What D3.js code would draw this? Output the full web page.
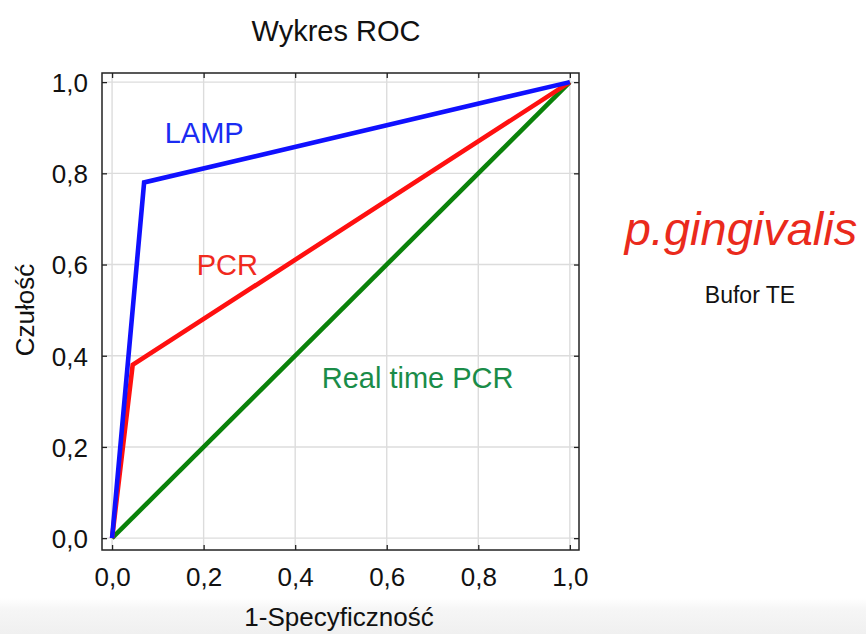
<!DOCTYPE html>
<html>
<head>
<meta charset="utf-8">
<script src="https://cdn.jsdelivr.net/npm/d3@7"></script>
<style>
  html, body { margin: 0; padding: 0; background: #fff; }
  svg { display: block; font-family: "Liberation Sans", Arial, Helvetica, sans-serif; }
</style>
</head>
<body>
<svg id="chart" width="866" height="634"></svg>
<script>
// ROC curves: x = 1 - specificity, y = sensitivity
const seriesNames = ["LAMP", "PCR", "Real time PCR"];
const lampPoints = [[0, 0], [0.07, 0.78], [1, 1]];
const pcrPoints = [[0, 0], [0.045, 0.38], [1, 1]];
const rtPcrPoints = [[0, 0], [1, 1]];
const tickValues = [0, 0.2, 0.4, 0.6, 0.8, 1.0];
const tickLabels = ["0,0", "0,2", "0,4", "0,6", "0,8", "1,0"];

const svg = d3.select("#chart");
const W = 866, H = 634;

// faint grey band along the bottom edge
const defs = svg.append("defs");
const grad = defs.append("linearGradient").attr("id", "band")
  .attr("x1", 0).attr("y1", 0).attr("x2", 0).attr("y2", 1);
grad.append("stop").attr("offset", "0%").attr("stop-color", "#ffffff");
grad.append("stop").attr("offset", "30%").attr("stop-color", "#f6f6f6");
grad.append("stop").attr("offset", "100%").attr("stop-color", "#f0f0f0");
svg.append("rect").attr("x", 0).attr("y", 598).attr("width", W).attr("height", H - 598)
  .attr("fill", "url(#band)");

// plot frame
const frame = { left: 102, right: 579, top: 73, bottom: 550 };
const x = d3.scaleLinear().domain([-0.022, 1.02]).range([frame.left, frame.right]);
const y = d3.scaleLinear().domain([-0.026, 1.02]).range([frame.bottom, frame.top]);

// grid
const grid = svg.append("g");
grid.selectAll("line.gx").data(tickValues).join("line")
  .attr("x1", d => x(d)).attr("x2", d => x(d))
  .attr("y1", frame.top).attr("y2", frame.bottom)
  .attr("stroke", "#dcdcdc").attr("stroke-width", 1.4);
grid.selectAll("line.gy").data(tickValues).join("line")
  .attr("y1", d => y(d)).attr("y2", d => y(d))
  .attr("x1", frame.left).attr("x2", frame.right)
  .attr("stroke", "#dcdcdc").attr("stroke-width", 1.4);

// inward ticks on all four sides, labels on bottom and left
const fmt = (d, i) => tickLabels[i];
const axisStyle = g => {
  g.select(".domain").remove();
  g.selectAll(".tick line").attr("stroke", "#222").attr("stroke-width", 1.3);
  g.selectAll(".tick text").attr("fill", "#111").style("font-size", "26px")
    .style("font-family", '"Liberation Sans", Arial, sans-serif');
};
svg.append("g").attr("transform", `translate(0,${frame.bottom})`)
  .call(d3.axisBottom(x).tickValues(tickValues).tickFormat(fmt).tickSizeInner(-5).tickPadding(18))
  .call(axisStyle);
svg.append("g").attr("transform", `translate(${frame.left},0)`)
  .call(d3.axisLeft(y).tickValues(tickValues).tickFormat(fmt).tickSizeInner(-5).tickPadding(14))
  .call(axisStyle)
  .call(g => g.selectAll(".tick text").attr("dy", "0.36em"));
svg.append("g").attr("transform", `translate(0,${frame.top})`)
  .call(d3.axisTop(x).tickValues(tickValues).tickFormat("").tickSizeInner(-5))
  .call(axisStyle);
svg.append("g").attr("transform", `translate(${frame.right},0)`)
  .call(d3.axisRight(y).tickValues(tickValues).tickFormat("").tickSizeInner(-5))
  .call(axisStyle);

svg.append("rect")
  .attr("x", frame.left).attr("y", frame.top)
  .attr("width", frame.right - frame.left).attr("height", frame.bottom - frame.top)
  .attr("fill", "none").attr("stroke", "#222").attr("stroke-width", 1.5);

// curves
const line = d3.line().x(d => x(d[0])).y(d => y(d[1]));
const curves = [
  { pts: rtPcrPoints, color: "#0a820a" },
  { pts: pcrPoints, color: "#ff1010" },
  { pts: lampPoints, color: "#1010ff" }
];
svg.append("g").selectAll("path").data(curves).join("path")
  .attr("d", d => line(d.pts))
  .attr("fill", "none")
  .attr("stroke", d => d.color)
  .attr("stroke-width", 4.6)
  .attr("stroke-linejoin", "miter");

// curve labels
const labelColors = ["#1a2cf2", "#f02a1e", "#1a8c48"];
const labelPos = [[0.115, 0.866], [0.185, 0.578], [0.458, 0.33]];
svg.append("g").selectAll("text").data(seriesNames).join("text")
  .attr("x", (d, i) => x(labelPos[i][0]))
  .attr("y", (d, i) => y(labelPos[i][1]))
  .attr("fill", (d, i) => labelColors[i])
  .style("font-size", "29px")
  .text(d => d);

// titles
svg.append("text").attr("x", 336).attr("y", 41).attr("text-anchor", "middle")
  .style("font-size", "29px").attr("fill", "#111").text("Wykres ROC");
svg.append("text").attr("x", 339).attr("y", 626).attr("text-anchor", "middle")
  .style("font-size", "26px").attr("fill", "#111").text("1-Specyficzność");
svg.append("text").attr("transform", "translate(34,310) rotate(-90)").attr("text-anchor", "middle")
  .style("font-size", "26px").attr("fill", "#111").text("Czułość");

// side annotation
svg.append("text").attr("x", 741).attr("y", 245).attr("text-anchor", "middle")
  .style("font-size", "47px").style("font-style", "italic").attr("fill", "#ea2a1c")
  .text("p.gingivalis");
svg.append("text").attr("x", 750).attr("y", 303).attr("text-anchor", "middle")
  .style("font-size", "23px").attr("fill", "#111").text("Bufor TE");
</script>
</body>
</html>
